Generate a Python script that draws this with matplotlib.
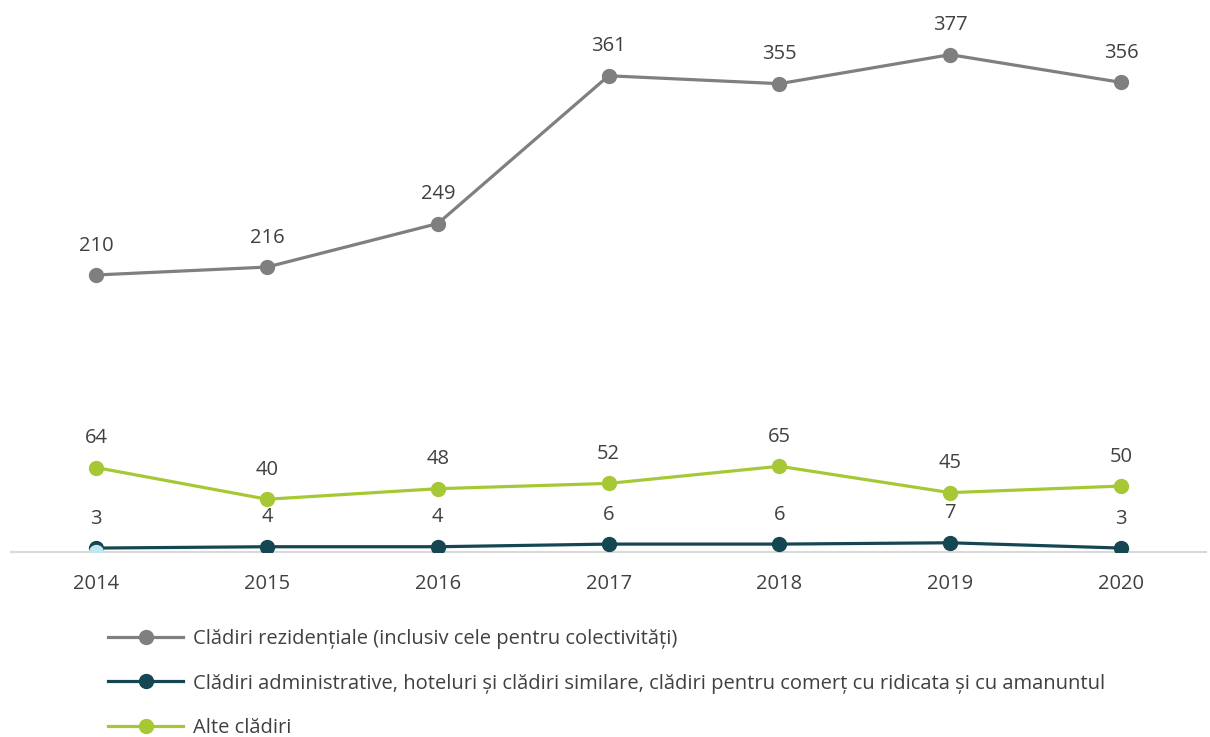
import matplotlib.pyplot as plt

plt.rcParams['font.family'] = ['Open Sans', 'DejaVu Sans']

YEARS = ['2014', '2015', '2016', '2017', '2018', '2019', '2020']
REZIDENTIALE = [210, 216, 249, 361, 355, 377, 356]
ADMINISTRATIVE = [3, 4, 4, 6, 6, 7, 3]
ALTE = [64, 40, 48, 52, 65, 45, 50]
# stray point drawn at 2014 in the original
STRAY = [0]

LABELS = [
    'Clădiri rezidențiale (inclusiv cele pentru colectivități)',
    'Clădiri administrative, hoteluri și clădiri similare, clădiri pentru comerț cu ridicata și cu amanuntul',
    'Alte clădiri',
]
COLORS = ['#7f7f7f', '#154753', '#a7c835']
TEXT = '#404040'
FS = 14.5

fig = plt.figure(figsize=(12.1, 7.37), dpi=100)
ax = fig.add_axes([0.009, 0.251, 0.988, 0.716])

x = list(range(len(YEARS)))
series = [REZIDENTIALE, ADMINISTRATIVE, ALTE]
for vals, lab, col in zip(series, LABELS, COLORS):
    ax.plot(x, vals, color=col, lw=2.3, marker='o', ms=10, label=lab, zorder=3)
    for xi, v in zip(x, vals):
        ax.annotate(str(v), (xi, v), xytext=(0, 14), textcoords='offset points',
                    ha='center', va='bottom', fontsize=FS, color=TEXT)

ax.plot(x[:len(STRAY)], STRAY, 'o', ms=10, color='#bfe6f1', zorder=4)

ax.set_xlim(-0.5, len(YEARS) - 0.5)
ax.set_ylim(0, 400)
ax.set_xticks(x)
ax.set_xticklabels(YEARS)
ax.tick_params(axis='x', length=0, pad=16, labelsize=FS, labelcolor=TEXT)
ax.set_yticks([])
for s in ['top', 'right', 'left']:
    ax.spines[s].set_visible(False)
ax.spines['bottom'].set_color('#d9d9d9')
ax.spines['bottom'].set_linewidth(1.5)

fig.legend(loc='upper left', bbox_to_anchor=(0.083, 0.157), frameon=False,
           fontsize=FS, handlelength=3.7, labelspacing=1.2, handletextpad=0.5,
           labelcolor=TEXT, borderaxespad=0)

fig.savefig('out.png', dpi=100)
